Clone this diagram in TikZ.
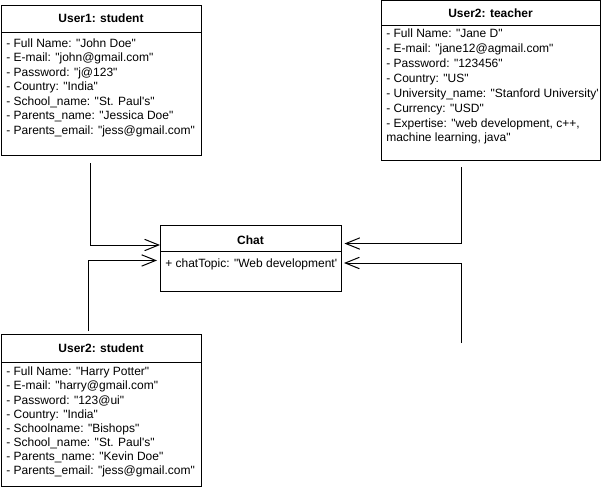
\documentclass[tikz,border=0pt]{standalone}
\usepackage{fontspec}
\setmainfont{Liberation Sans}[Ligatures=TeXOff]
\usetikzlibrary{arrows.meta}
\begin{document}
\begin{tikzpicture}[x=0.75pt,y=-0.75pt,
  box/.style={draw, line width=0.75pt, anchor=north west, inner sep=0pt, outer sep=0pt},
  title/.style={anchor=base, inner sep=0pt, font=\bfseries\fontsize{9}{10.8}\selectfont},
  attr/.style={anchor=base west, inner sep=0pt, font=\fontsize{9}{10.8}\selectfont},
  conn/.style={line width=0.75pt, -{Straight Barb[length=10.5pt, width=8.5pt, line width=0.75pt]}}]
\useasboundingbox (0,0) rectangle (601,489);

% User1: student
\node[box, minimum width=150pt, minimum height=112.5pt] (u1) at (1,5) {};
\draw[line width=0.75pt] (u1.north west) ++(0,27) -- ++(200,0);
\node[title] (u1t) at (101,22) {User1: student};
\foreach \t [count=\i from 0] in {{- Full Name: "John Doe"},{- E-mail: "john@gmail.com"},{- Password: "j@123"},{- Country: "India"},{- School\_name: "St. Paul's"},{- Parents\_name: "Jessica Doe"},{- Parents\_email: "jess@gmail.com"}}
  \node[attr] (u1a\i) at (6,{47.3+14.45*\i}) {\t};

% User2: teacher
\node[box, minimum width=164.25pt, minimum height=119.25pt] (te) at (381,1) {};
\draw[line width=0.75pt] (te.north west) ++(0,24) -- ++(219,0);
\node[title] (tet) at (490.5,17) {User2: teacher};
\foreach \t [count=\i from 0] in {{- Full Name: "Jane D"},{- E-mail: "jane12@agmail.com"},{- Password: "123456"},{- Country: "US"},{- University\_name: "Stanford University'},{- Currency: "USD"},{- Expertise: "web development, c++,},{machine learning, java"}}
  \node[attr] (tea\i) at (386,{37+15*\i}) {\t};

% User2: student
\node[box, minimum width=150pt, minimum height=114pt] (u2) at (1,334) {};
\draw[line width=0.75pt] (u2.north west) ++(0,28) -- ++(200,0);
\node[title] (u2t) at (101,352) {User2: student};
\foreach \t [count=\i from 0] in {{- Full Name: "Harry Potter"},{- E-mail: "harry@gmail.com"},{- Password: "123@ui"},{- Country: "India"},{- Schoolname: "Bishops"},{- School\_name: "St. Paul's"},{- Parents\_name: "Kevin Doe"},{- Parents\_email: "jess@gmail.com"}}
  \node[attr] (u2a\i) at (6,{375.7+14.15*\i}) {\t};

% Chat
\node[box, minimum width=135.75pt, minimum height=49.5pt] (chat) at (160,225) {};
\draw[line width=0.75pt] (chat.north west) ++(0,26) -- ++(181,0);
\node[title] (chatt) at (250.5,244) {Chat};
\node[attr] (chata) at (165,267.5) {+ chatTopic: "Web development'};

% connectors
\coordinate (s1) at (90.7,163);
\coordinate (s2) at (88.3,331);
\coordinate (s3) at (461,167);
\coordinate (s4) at (461,343);
\draw[conn] (s1) |- ([yshift=-15pt]chat.north west);
\draw[conn] (s2) |- ([xshift=-2.25pt,yshift=-26.6pt]chat.north west);
\draw[conn] (s3) |- ([xshift=2.6pt,yshift=-13.9pt]chat.north east);
\draw[conn] (s4) |- ([xshift=2.25pt,yshift=-28.5pt]chat.north east);
\end{tikzpicture}
\end{document}
